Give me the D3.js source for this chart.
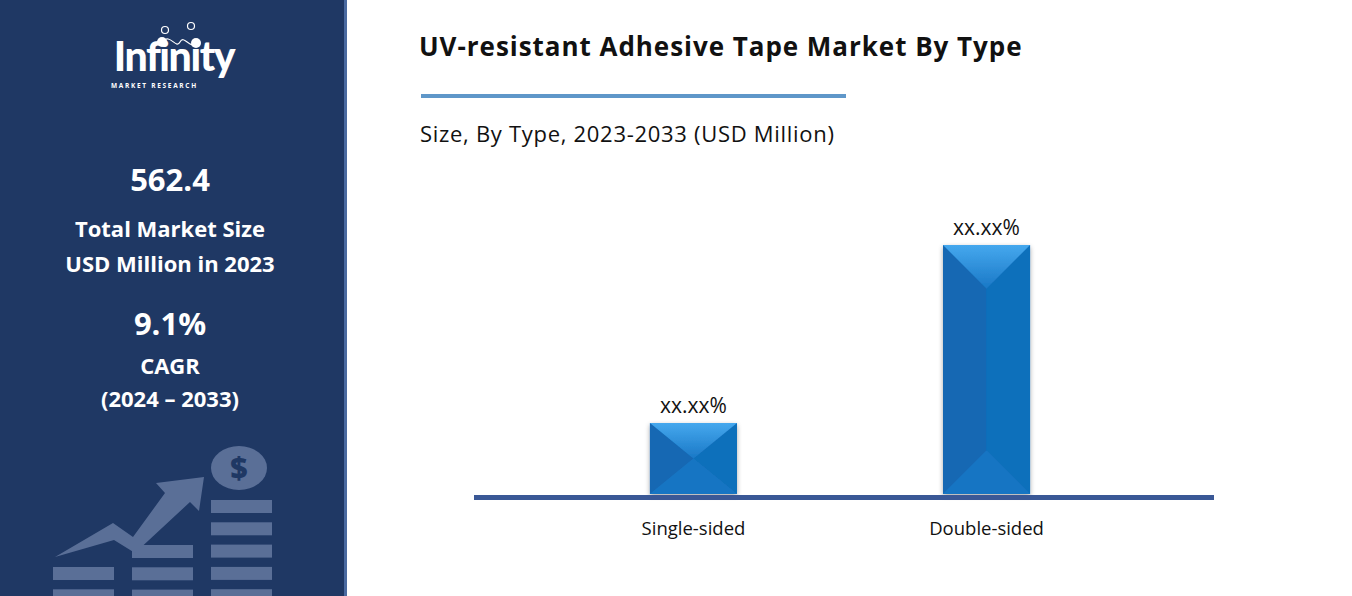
<!DOCTYPE html>
<html><head><meta charset="utf-8">
<script src="https://cdn.jsdelivr.net/npm/d3@7"></script>
<style>body{margin:0;background:#fff}svg{display:block}</style>
</head><body>
<svg id="c" width="1352" height="596"></svg>
<script>
const categories = ["Single-sided", "Double-sided"];
const values = [28.5, 100];
const valueLabels = ["xx.xx%", "xx.xx%"];
const title = "UV-resistant Adhesive Tape Market By Type";
const subtitle = "Size, By Type, 2023-2033 (USD Million)";
const sideStats = [["562.4", "big"], ["Total Market Size", "mid"], ["USD Million in 2023", "mid"], ["9.1%", "big"], ["CAGR", "mid"], ["(2024 – 2033)", "mid"]];

const svg = d3.select("#c");
const F = "'Open Sans', 'Noto Sans', sans-serif";
// left panel
svg.append("rect").attr("width", 345).attr("height", 596).attr("fill", "#1f3864");
svg.append("rect").attr("x", 344).attr("width", 3).attr("height", 596).attr("fill", "#4a6aa0");
// logo
const lg = svg.append("g");
lg.append("text").attr("x", 174).attr("y", 71).attr("text-anchor", "middle").attr("fill", "#fff")
  .attr("font-family", "Lato, sans-serif").attr("font-weight", 900).attr("font-size", 41).attr("letter-spacing", -1.4).text("Infinity");
lg.append("text").attr("x", 111).attr("y", 88).attr("fill", "#fff").attr("font-family", F).attr("font-weight", 700)
  .attr("font-size", 6.5).attr("letter-spacing", 1.7).text("MARKET RESEARCH");
[[165, 30], [191, 26]].forEach(p => lg.append("circle").attr("cx", p[0]).attr("cy", p[1]).attr("r", 3.5).attr("fill", "none").attr("stroke", "#fff").attr("stroke-width", 1.2));
[[162, 42], [196, 43]].forEach(p => lg.append("circle").attr("cx", p[0]).attr("cy", p[1]).attr("r", 5).attr("fill", "#fff"));
lg.append("path").attr("d", "M162,42 C170,32 176,50 180,42 C184,34 190,50 196,43").attr("fill", "none").attr("stroke", "#fff").attr("stroke-width", 1.2);
// stats
const sy = [180, 229, 264, 324, 366, 399];
sideStats.forEach((s, i) => svg.append("text").attr("x", 170).attr("y", sy[i] + (s[1] === "big" ? 11 : 8)).attr("text-anchor", "middle")
  .attr("fill", "#fff").attr("font-family", F).attr("font-weight", 700).attr("font-size", s[1] === "big" ? 31 : 22).text(s[0]));
// icon
const ic = "#5a6f97";
const cols = [[53, 567], [132, 545], [211, 500]];
cols.forEach(c => { for (let y = c[1]; y < 596; y += 22.3) svg.append("rect").attr("x", c[0]).attr("y", y).attr("width", 61).attr("height", 13).attr("fill", ic); });
svg.append("path").attr("d", "M55,557 L113,523 L133,537 L165,493 L156,483 L204,477 L199,511 L190,502 L135,553 L114,540 Z").attr("fill", ic);
svg.append("ellipse").attr("cx", 239).attr("cy", 468).attr("rx", 28).attr("ry", 22).attr("fill", ic);
svg.append("text").attr("x", 239).attr("y", 479).attr("text-anchor", "middle").attr("fill", "#1f3864").attr("font-family", F).attr("font-weight", 800).attr("font-size", 30).text("$");

// title
svg.append("text").attr("x", 419).attr("y", 56).attr("font-family", F).attr("font-weight", 700).attr("font-size", 26).attr("letter-spacing", 0.4).attr("textLength", 603).attr("fill", "#111").text(title);
svg.append("rect").attr("x", 421).attr("y", 94).attr("width", 425).attr("height", 4).attr("fill", "#5f97c9");
svg.append("text").attr("x", 420).attr("y", 142).attr("font-family", F).attr("font-size", 22).attr("textLength", 414).attr("fill", "#111").text(subtitle);

// chart
const x = d3.scaleBand().domain(categories).range([470, 1210]).paddingInner(0.703).paddingOuter(0.614);
const y = d3.scaleLinear().domain([0, 100]).range([494, 245]);
const defs = svg.append("defs");
const f = defs.append("filter").attr("id", "sh").attr("x", "-20%").attr("y", "-20%").attr("width", "140%").attr("height", "140%");
f.append("feGaussianBlur").attr("in", "SourceAlpha").attr("stdDeviation", 2.5);
f.append("feOffset").attr("dx", 0).attr("dy", 2).attr("result", "b");
f.append("feComponentTransfer").append("feFuncA").attr("type", "linear").attr("slope", 0.35);
const m = f.append("feMerge"); m.append("feMergeNode"); m.append("feMergeNode").attr("in", "SourceGraphic");
const gr = defs.append("linearGradient").attr("id", "tg").attr("x1", 0).attr("y1", 0).attr("x2", 0).attr("y2", 1);
gr.append("stop").attr("offset", 0).attr("stop-color", "#45a8ee");
gr.append("stop").attr("offset", 1).attr("stop-color", "#1a78c6");

categories.forEach((c, i) => {
  const x0 = x(c), w = x.bandwidth(), x1 = x0 + w, y0 = y(values[i]), y1 = y(0), xc = x0 + w / 2;
  const h = Math.min(w / 2, (y1 - y0) / 2);
  const g = svg.append("g").attr("filter", "url(#sh)");
  g.append("rect").attr("x", x0).attr("y", y0).attr("width", w).attr("height", y1 - y0).attr("fill", "#1472bf");
  g.append("path").attr("d", `M${x0},${y0} L${x0},${y1} L${xc},${y1 - h} L${xc},${y0 + h} Z`).attr("fill", "#1568b3");
  g.append("path").attr("d", `M${x1},${y0} L${x1},${y1} L${xc},${y1 - h} L${xc},${y0 + h} Z`).attr("fill", "#106fbb");
  g.append("path").attr("d", `M${x0},${y0} L${x1},${y0} L${xc},${y0 + h} Z`).attr("fill", "url(#tg)");
  g.append("path").attr("d", `M${x0},${y1} L${x1},${y1} L${xc},${y1 - h} Z`).attr("fill", "#1575c3");
  svg.append("text").attr("x", xc).attr("y", y0 - 10).attr("text-anchor", "middle").attr("font-family", F).attr("font-size", 21).attr("fill", "#111").text(valueLabels[i]);
});
svg.append("rect").attr("x", 474).attr("y", 495).attr("width", 740).attr("height", 5).attr("fill", "#3a5896");
const ax = svg.append("g").attr("transform", "translate(0,500)").call(d3.axisBottom(x).tickSize(0).tickPadding(22));
ax.select(".domain").remove();
ax.selectAll("text").attr("font-family", F).attr("font-size", 18.5).attr("fill", "#111");
</script>
</body></html>
